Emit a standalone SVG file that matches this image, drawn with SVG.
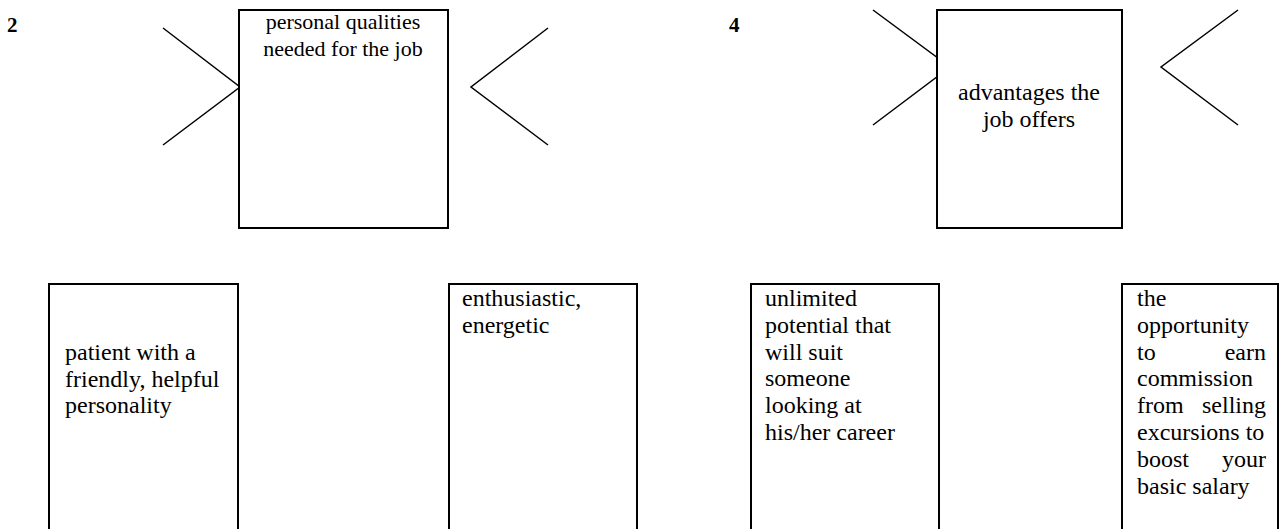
<svg xmlns="http://www.w3.org/2000/svg" width="1283" height="529" viewBox="0 0 1283 529">
  <style>
    .box { fill: #fff; stroke: #000; stroke-width: 2; }
    .wing { fill: none; stroke: #000; stroke-width: 1.5; }
    .t { font-family: "Liberation Serif", "Times New Roman", serif; font-size: 24px; fill: #000; }
    .s { font-size: 22px; }
    .c { text-anchor: middle; }
    .e { text-anchor: end; }
    .num { font-family: "Liberation Serif", "Times New Roman", serif; font-size: 21px; font-weight: bold; fill: #000; }
  </style>
  <rect width="1283" height="529" fill="#fff"/>

  <!-- section numbers -->
  <text class="num" x="7" y="32">2</text>
  <text class="num" x="729" y="32">4</text>

  <!-- chevrons beside the central boxes -->
  <g id="connectors">
    <polyline class="wing" points="163,28 240,87 163,145"/>
    <polyline class="wing" points="548,28 471,87 548,145"/>
    <polyline class="wing" points="873,10 950,67 873,125"/>
    <polyline class="wing" points="1238,10 1161,67 1238,125"/>
  </g>

  <!-- section 2 -->
  <g id="qualities">
    <rect class="box" x="239" y="10" width="209" height="218"/>
    <text class="t s c" x="343" y="29">personal qualities</text>
    <text class="t s c" x="343" y="56">needed for the job</text>
  </g>
  <g id="patient">
    <rect class="box" x="49" y="284" width="189" height="260"/>
    <text class="t" x="65" y="360">patient with a</text>
    <text class="t" x="65" y="387">friendly, helpful</text>
    <text class="t" x="65" y="413">personality</text>
  </g>
  <g id="enthusiastic">
    <rect class="box" x="449" y="284" width="188" height="260"/>
    <text class="t" x="462" y="306">enthusiastic,</text>
    <text class="t" x="462" y="333">energetic</text>
  </g>

  <!-- section 4 -->
  <g id="advantages">
    <rect class="box" x="937" y="10" width="185" height="218"/>
    <text class="t c" x="1029" y="100">advantages the</text>
    <text class="t c" x="1029" y="127">job offers</text>
  </g>
  <g id="potential">
    <rect class="box" x="751" y="284" width="188" height="260"/>
    <text class="t" x="765" y="306">unlimited</text>
    <text class="t" x="765" y="333">potential that</text>
    <text class="t" x="765" y="360">will suit</text>
    <text class="t" x="765" y="386">someone</text>
    <text class="t" x="765" y="413">looking at</text>
    <text class="t" x="765" y="440">his/her career</text>
  </g>
  <g id="commission">
    <rect class="box" x="1122" y="284" width="156" height="260"/>
    <text class="t" x="1137" y="306">the</text>
    <text class="t" x="1137" y="333">opportunity</text>
    <text class="t" x="1137" y="360">to</text>
    <text class="t e" x="1266" y="360">earn</text>
    <text class="t" x="1137" y="386">commission</text>
    <text class="t" x="1137" y="413">from</text>
    <text class="t e" x="1266" y="413">selling</text>
    <text class="t" x="1137" y="440">excursions to</text>
    <text class="t" x="1137" y="467">boost</text>
    <text class="t e" x="1266" y="467">your</text>
    <text class="t" x="1137" y="494">basic salary</text>
  </g>
</svg>
